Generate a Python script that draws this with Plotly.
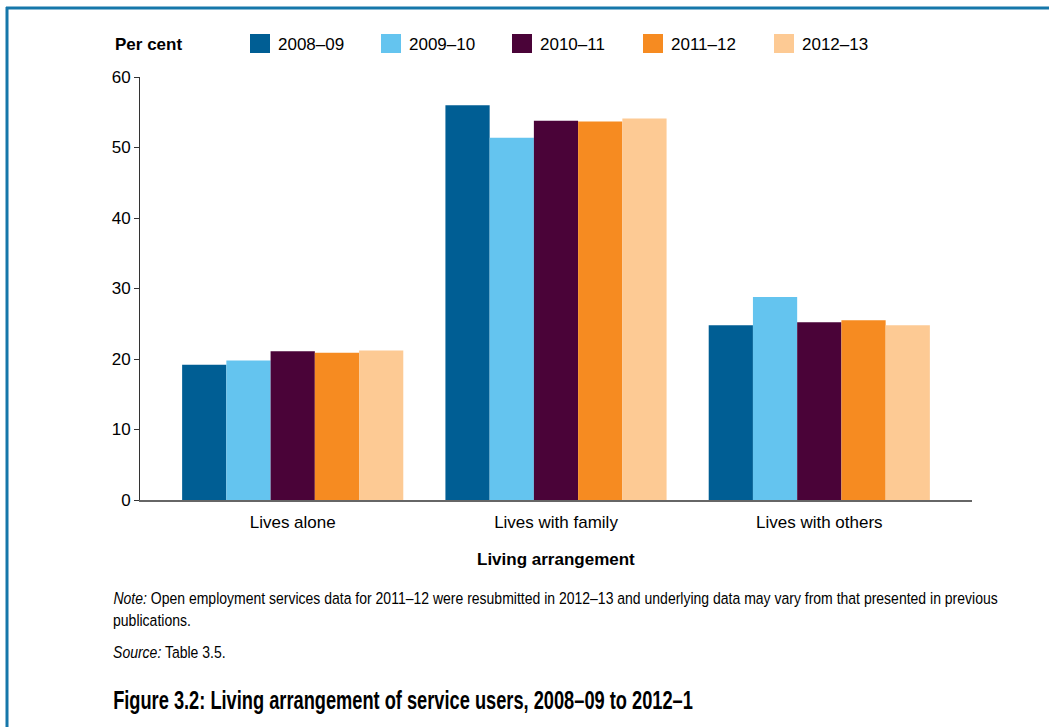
import plotly.graph_objects as go

categories = ["Lives alone", "Lives with family", "Lives with others"]
years = ["2008–09", "2009–10", "2010–11", "2011–12", "2012–13"]
v_2008_09 = [19.2, 56.0, 24.8]
v_2009_10 = [19.8, 51.4, 28.8]
v_2010_11 = [21.1, 53.8, 25.2]
v_2011_12 = [20.9, 53.7, 25.5]
v_2012_13 = [21.2, 54.1, 24.8]
series = [v_2008_09, v_2009_10, v_2010_11, v_2011_12, v_2012_13]
colors = ["#005e94", "#64c4ef", "#4a0338", "#f68b21", "#fdca94"]
y_ticks = [0, 10, 20, 30, 40, 50, 60]

AX = "Liberation Sans, Arial, sans-serif"
NARROW = "Liberation Sans, Arial, sans-serif"

fig = go.Figure()
for name, vals, col in zip(years, series, colors):
    fig.add_trace(go.Bar(x=categories, y=vals, name=name, marker=dict(color=col, line=dict(width=0)),
                         showlegend=False))

W, H = 1049, 727
L, R, T, B = 140, 972, 77, 500

def px(x):
    return (x - L) / (R - L)

def py(y):
    return (B - y) / (B - T)

shapes = []
annotations = []
annotations.append(dict(x=px(113), y=py(44), xref="paper", yref="paper", text="<b>Per cent</b>",
                        showarrow=False, xanchor="left", yanchor="middle",
                        font=dict(family=AX, size=17, color="black")))
for i, (name, col) in enumerate(zip(years, colors)):
    x0 = 250 + i * 131
    shapes.append(dict(type="rect", xref="paper", yref="paper", x0=px(x0), x1=px(x0 + 20),
                       y0=py(53), y1=py(34), fillcolor=col, line=dict(width=0)))
    annotations.append(dict(x=px(x0 + 26), y=py(44), xref="paper", yref="paper", text=name,
                            showarrow=False, xanchor="left", yanchor="middle",
                            font=dict(family=AX, size=17, color="black")))
annotations.append(dict(x=0.5, y=py(559), xref="paper", yref="paper", text="<b>Living arrangement</b>",
                        showarrow=False, xanchor="center", yanchor="middle",
                        font=dict(family=AX, size=17, color="black")))
annotations.append(dict(x=px(111), y=py(598), xref="paper", yref="paper",
                        text="<i>Note:</i> Open employment services data for 2011–12 were resubmitted in 2012–13 and underlying data may vary from that presented in previous",
                        showarrow=False, xanchor="left", yanchor="middle",
                        font=dict(family=NARROW, size=17, color="black")))
annotations.append(dict(x=px(111), y=py(620), xref="paper", yref="paper", text="publications.",
                        showarrow=False, xanchor="left", yanchor="middle",
                        font=dict(family=NARROW, size=17, color="black")))
annotations.append(dict(x=px(111), y=py(652), xref="paper", yref="paper", text="<i>Source:</i> Table 3.5.",
                        showarrow=False, xanchor="left", yanchor="middle",
                        font=dict(family=NARROW, size=17, color="black")))
annotations.append(dict(x=px(111), y=py(700), xref="paper", yref="paper",
                        text="<b>Figure 3.2: Living arrangement of service users, 2008–09 to 2012–1</b>",
                        showarrow=False, xanchor="left", yanchor="middle",
                        font=dict(family=NARROW, size=25, color="black")))
shapes.append(dict(type="line", xref="paper", yref="paper", x0=px(6), x1=px(1049), y0=py(8), y1=py(8),
                   line=dict(color="#1677aa", width=3)))
shapes.append(dict(type="line", xref="paper", yref="paper", x0=px(7), x1=px(7), y0=py(7), y1=py(727),
                   line=dict(color="#1677aa", width=3)))

fig.update_layout(
    width=W, height=H,
    margin=dict(l=L, r=W - R, t=T, b=H - B),
    paper_bgcolor="white", plot_bgcolor="white",
    barmode="group", bargap=0.16, bargroupgap=0,
    shapes=shapes, annotations=annotations,
    font=dict(family=AX, size=17, color="black"),
)
fig.update_xaxes(range=[-0.58, 2.58], showline=True, linecolor="#666666", linewidth=1.5,
                 ticks="", showgrid=False, ticklabelstandoff=6,
                 tickfont=dict(family=AX, size=17, color="black"))
fig.update_yaxes(range=[0, 60], tickvals=y_ticks, showline=True, linecolor="#333333", linewidth=1,
                 ticks="outside", ticklen=5, tickcolor="#333333", showgrid=False, zeroline=False,
                 tickfont=dict(family=AX, size=17, color="black"))

post = """
document.body.style.margin='0';
document.body.style.overflow='hidden';
(function(){
  var texts = document.querySelectorAll('text.annotation-text');
  var noteScale = null;
  var targets = {'Note': 885, 'Figure': 580};
  texts.forEach(function(t){
    var s = t.textContent;
    for (var k in targets) {
      if (s.indexOf(k) === 0) {
        var w = t.getBBox().width;
        var f = targets[k] / w;
        if (k === 'Note') noteScale = f;
        t.dataset.sc = f;
      }
    }
  });
  texts.forEach(function(t){
    var s = t.textContent;
    var f = null;
    if (t.dataset.sc) f = parseFloat(t.dataset.sc);
    else if ((s.indexOf('publications') === 0 || s.indexOf('Source') === 0) && noteScale) f = noteScale;
    if (f) {
      t.style.transformBox = 'fill-box';
      t.style.transformOrigin = '0% 50%';
      t.style.transform = 'scaleX(' + f + ')';
    }
  });
})();
"""
fig.write_html("out.html", post_script=post, config={"displayModeBar": False})
